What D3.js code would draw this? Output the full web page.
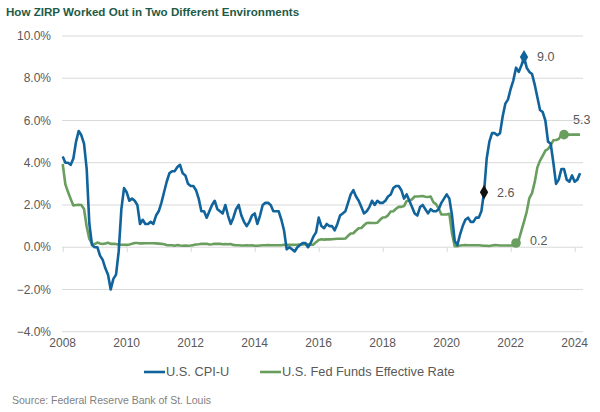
<!DOCTYPE html>
<html>
<head>
<meta charset="utf-8">
<script src="https://cdn.jsdelivr.net/npm/d3@7"></script>
<style>
  html, body { margin: 0; padding: 0; background: #ffffff; }
  svg text { font-family: "Liberation Sans", Arial, sans-serif; }
</style>
</head>
<body>
<svg id="chart" width="600" height="412"></svg>
<script>
// ---- Data (monthly, Jan 2008 - Mar 2024) ----
const startYear = 2008;
const cpi = [
  4.3, 4.0, 4.0, 3.9, 4.2, 5.0, 5.5, 5.3, 4.9, 3.7, 1.1, 0.1,
  0.0, 0.0, -0.4, -0.6, -1.0, -1.3, -2.0, -1.5, -1.3, -0.2, 1.8, 2.8,
  2.6, 2.2, 2.3, 2.2, 2.0, 1.1, 1.3, 1.1, 1.1, 1.2, 1.1, 1.5,
  1.7, 2.1, 2.6, 3.1, 3.5, 3.6, 3.6, 3.8, 3.9, 3.5, 3.4, 3.0,
  2.9, 2.9, 2.7, 2.3, 1.7, 1.7, 1.4, 1.7, 2.0, 2.2, 1.8, 1.7,
  1.6, 2.0, 1.5, 1.1, 1.4, 1.8, 2.0, 1.5, 1.2, 1.0, 1.2, 1.5,
  1.6, 1.1, 1.5, 2.0, 2.1, 2.1, 2.0, 1.7, 1.7, 1.7, 1.3, 0.8,
  -0.1, 0.0, -0.1, -0.2, 0.0, 0.1, 0.2, 0.2, 0.0, 0.2, 0.5, 0.7,
  1.4, 1.0, 0.9, 1.1, 1.0, 1.0, 0.8, 1.1, 1.5, 1.6, 1.7, 2.1,
  2.5, 2.7, 2.4, 2.2, 1.9, 1.6, 1.7, 1.9, 2.2, 2.0, 2.2, 2.1,
  2.1, 2.2, 2.4, 2.5, 2.8, 2.9, 2.9, 2.7, 2.3, 2.5, 2.2, 1.9,
  1.6, 1.5, 1.9, 2.0, 1.8, 1.6, 1.8, 1.7, 1.7, 1.8, 2.1, 2.3,
  2.5, 2.3, 1.5, 0.3, 0.1, 0.6, 1.0, 1.3, 1.4, 1.2, 1.2, 1.4,
  1.4, 1.7, 2.6, 4.2, 5.0, 5.4, 5.4, 5.3, 5.4, 6.2, 6.8, 7.0,
  7.5, 7.9, 8.5, 8.3, 8.6, 9.0, 8.5, 8.3, 8.2, 7.7, 7.1, 6.5,
  6.4, 6.0, 5.0, 4.9, 4.0, 3.0, 3.2, 3.7, 3.7, 3.2, 3.1, 3.4,
  3.1, 3.2, 3.5
];
const fedFunds = [
  3.94, 2.98, 2.61, 2.28, 1.98, 2.00, 2.01, 2.00, 1.81, 0.97, 0.39, 0.16,
  0.15, 0.22, 0.18, 0.15, 0.18, 0.21, 0.16, 0.16, 0.15, 0.12, 0.12, 0.12,
  0.11, 0.13, 0.16, 0.20, 0.20, 0.18, 0.18, 0.19, 0.19, 0.19, 0.19, 0.18,
  0.17, 0.16, 0.14, 0.10, 0.09, 0.09, 0.07, 0.10, 0.08, 0.07, 0.08, 0.07,
  0.08, 0.10, 0.13, 0.14, 0.16, 0.16, 0.16, 0.13, 0.14, 0.16, 0.16, 0.16,
  0.14, 0.15, 0.14, 0.15, 0.11, 0.09, 0.09, 0.08, 0.08, 0.09, 0.08, 0.09,
  0.07, 0.07, 0.08, 0.09, 0.09, 0.10, 0.09, 0.09, 0.09, 0.09, 0.09, 0.12,
  0.11, 0.11, 0.11, 0.12, 0.12, 0.13, 0.13, 0.14, 0.14, 0.12, 0.12, 0.24,
  0.34, 0.38, 0.36, 0.37, 0.37, 0.38, 0.39, 0.40, 0.40, 0.40, 0.41, 0.54,
  0.65, 0.66, 0.79, 0.90, 0.91, 1.04, 1.15, 1.16, 1.15, 1.15, 1.16, 1.30,
  1.41, 1.42, 1.51, 1.69, 1.70, 1.82, 1.91, 1.91, 1.95, 2.19, 2.20, 2.27,
  2.40, 2.40, 2.41, 2.42, 2.39, 2.38, 2.40, 2.13, 2.04, 1.83, 1.55, 1.55,
  1.55, 1.58, 0.65, 0.05, 0.05, 0.08, 0.09, 0.10, 0.09, 0.09, 0.09, 0.09,
  0.09, 0.08, 0.07, 0.07, 0.06, 0.08, 0.10, 0.09, 0.08, 0.08, 0.08, 0.08,
  0.08, 0.08, 0.20, 0.33, 0.77, 1.21, 1.68, 2.33, 2.56, 3.08, 3.78, 4.10,
  4.33, 4.57, 4.65, 4.83, 5.06, 5.08, 5.12, 5.33, 5.33, 5.33, 5.33, 5.33,
  5.33, 5.33, 5.33
];
const yTicks = [-4, -2, 0, 2, 4, 6, 8, 10];
const xTicks = [2008, 2010, 2012, 2014, 2016, 2018, 2020, 2022, 2024];
const seriesNames = ["U.S. CPI-U", "U.S. Fed Funds Effective Rate"];
// annotated points: month index and label
const cpiMarks = [{i: 158, label: "2.6", kind: "black"}, {i: 173, label: "9.0", kind: "blue"}];
const ffMarks = [{i: 170, label: "0.2"}, {i: 188, label: "5.3"}];

const blue = "#11639c";
const green = "#6a9e5f";
const textGray = "#595959";
const gridGray = "#d9d9d9";

const svg = d3.select("#chart");

const x = d3.scaleLinear().domain([2008, 2024]).range([62.7, 574.7]);
const y = d3.scaleLinear().domain([-4, 10]).range([331.7, 36]);
const t = i => startYear + i / 12;

// Title
svg.append("text")
  .attr("x", 6).attr("y", 16)
  .attr("font-size", 11.6).attr("font-weight", "bold")
  .attr("fill", "#1d5b48")
  .text("How ZIRP Worked Out in Two Different Environments");

// Gridlines
svg.append("g").selectAll("line").data(yTicks).join("line")
  .attr("x1", 62).attr("x2", 583)
  .attr("y1", d => y(d)).attr("y2", d => y(d))
  .attr("stroke", gridGray).attr("stroke-width", 1);

// Y labels
svg.append("g").selectAll("text").data(yTicks).join("text")
  .attr("x", 51).attr("y", d => y(d)).attr("dy", "0.35em")
  .attr("text-anchor", "end").attr("font-size", 12).attr("fill", textGray)
  .text(d => d3.format(".1f")(d) + "%");

// X axis ticks on zero line
const xAxis = d3.axisBottom(x).tickValues(xTicks).tickSize(5).tickFormat("");
const gx = svg.append("g").attr("transform", `translate(0,${y(0)})`).call(xAxis);
gx.select(".domain").remove();
gx.selectAll(".tick line").attr("stroke", gridGray);

// X labels at bottom
svg.append("g").selectAll("text").data(xTicks).join("text")
  .attr("x", d => x(d)).attr("y", 347)
  .attr("text-anchor", "middle").attr("font-size", 12).attr("fill", textGray)
  .text(d => d);

// Lines
const line = d3.line().x((d, i) => x(t(i))).y(d => y(d)).curve(d3.curveLinear);
svg.append("path").datum(fedFunds).attr("d", line)
  .attr("fill", "none").attr("stroke", green).attr("stroke-width", 2.6)
  .attr("stroke-linejoin", "round");
svg.append("path").datum(cpi).attr("d", line)
  .attr("fill", "none").attr("stroke", blue).attr("stroke-width", 2.6)
  .attr("stroke-linejoin", "round");

// Markers
const diamond = d3.symbol().type(d3.symbolDiamond).size(60);
svg.append("g").selectAll("path").data(cpiMarks).join("path")
  .attr("d", diamond)
  .attr("transform", d => `translate(${x(t(d.i))},${y(cpi[d.i])})`)
  .attr("fill", d => d.kind === "blue" ? blue : "#111111");
svg.append("g").selectAll("text").data(cpiMarks).join("text")
  .attr("x", d => x(t(d.i)) + 13).attr("y", d => y(cpi[d.i])).attr("dy", "0.35em")
  .attr("font-size", 12.5).attr("fill", textGray).text(d => d.label);

svg.append("g").selectAll("circle").data(ffMarks).join("circle")
  .attr("cx", d => x(t(d.i))).attr("cy", d => y(fedFunds[d.i])).attr("r", 4.8)
  .attr("fill", green);
svg.append("g").selectAll("text").data(ffMarks).join("text")
  .attr("x", (d, k) => x(t(d.i)) + (k === 0 ? 14 : 9))
  .attr("y", (d, k) => y(fedFunds[d.i]) + (k === 0 ? -2 : -15)).attr("dy", "0.35em")
  .attr("font-size", 12.5).attr("fill", textGray).text(d => d.label);

// Legend
const legend = [
  {name: seriesNames[0], color: blue, x: 144},
  {name: seriesNames[1], color: green, x: 260}
];
const lg = svg.append("g").selectAll("g").data(legend).join("g")
  .attr("transform", d => `translate(${d.x},372)`);
lg.append("line").attr("x1", 0).attr("x2", 21).attr("y1", 0).attr("y2", 0)
  .attr("stroke", d => d.color).attr("stroke-width", 2.6);
lg.append("text").attr("x", 22).attr("y", 0).attr("dy", "0.35em")
  .attr("font-size", 12.8).attr("fill", textGray).text(d => d.name);

// Source
svg.append("text").attr("x", 12).attr("y", 404)
  .attr("font-size", 10.5).attr("fill", "#7f7f7f")
  .text("Source: Federal Reserve Bank of St. Louis");
</script>
</body>
</html>
